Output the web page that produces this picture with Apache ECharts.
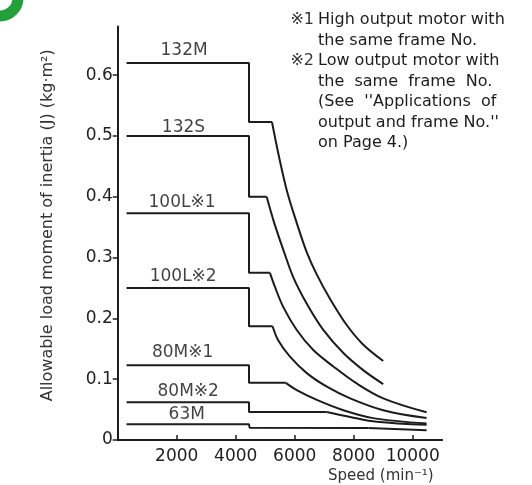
<!DOCTYPE html>
<html>
<head>
<meta charset="utf-8">
<script src="https://cdn.jsdelivr.net/npm/echarts@6/dist/echarts.min.js"></script>
<style>html,body{margin:0;padding:0;background:#fff;}#c{width:532px;height:485px;}</style>
</head>
<body>
<div id="c"></div>
<script>
// ---- data (speed in min^-1, J in kg·m²) ----
const s132M = [300, 4450, 4450, 5230, 5450, 5730, 6050, 6400, 6750, 7200, 7750, 8300, 9000];
const j132M = [0.62, 0.62, 0.523, 0.523, 0.47, 0.411, 0.36, 0.31, 0.272, 0.232, 0.19, 0.158, 0.13];
const s132S = [300, 4450, 4450, 5050, 5300, 5620, 5950, 6400, 6970, 7650, 8320, 9000];
const j132S = [0.5, 0.5, 0.4, 0.4, 0.358, 0.312, 0.268, 0.225, 0.181, 0.143, 0.115, 0.092];
const s100L1 = [300, 4450, 4450, 5160, 5330, 5610, 6070, 6630, 7310, 8100, 9000, 10470];
const j100L1 = [0.373, 0.373, 0.275, 0.275, 0.252, 0.219, 0.181, 0.148, 0.121, 0.093, 0.0685, 0.0455];
const s100L2 = [300, 4450, 4450, 5250, 5440, 5840, 6410, 7090, 7880, 9000, 10470];
const j100L2 = [0.25, 0.25, 0.187, 0.187, 0.164, 0.137, 0.11, 0.0877, 0.0685, 0.049, 0.036];
const s80M1 = [300, 4450, 4450, 5700, 6070, 6750, 7650, 8660, 10470];
const j80M1 = [0.123, 0.123, 0.094, 0.094, 0.082, 0.066, 0.049, 0.036, 0.027];
const s80M2 = [300, 4450, 4450, 7080, 7880, 8780, 10470];
const j80M2 = [0.062, 0.062, 0.0462, 0.0462, 0.038, 0.03, 0.025];
const s63M = [300, 4450, 4470, 8500, 10470];
const j63M = [0.026, 0.026, 0.0203, 0.0197, 0.016];

const labelNames = ['132M', '132S', '100L※1', '100L※2', '80M※1', '80M※2', '63M'];
const labelSpeeds = [2250, 2230, 2180, 2220, 2200, 2390, 2340];
const labelValues = [0.64, 0.514, 0.391, 0.269, 0.144, 0.0795, 0.041];

const xTicks = [2000, 4000, 6000, 8000, 10000];
const yTicks = [0, 0.1, 0.2, 0.3, 0.4, 0.5, 0.6];

const noteLines = [
  'High output motor with',
  'the same frame No.',
  'Low output motor with',
  'the  same  frame  No.',
  '(See  \'\'Applications  of',
  'output and frame No.\'\'',
  'on Page 4.)'
];
const noteMarks = ['※1', '', '※2', '', '', '', ''];

// ---- build ----
const FONT = '"DejaVu Sans", "Noto Sans CJK JP", sans-serif';
const INK = '#1c1c1c';
const pairs = (s, j) => s.map((v, i) => [v, j[i]]);
const curves = [
  pairs(s132M, j132M), pairs(s132S, j132S), pairs(s100L1, j100L1),
  pairs(s100L2, j100L2), pairs(s80M1, j80M1), pairs(s80M2, j80M2), pairs(s63M, j63M)
];

const series = [];
curves.forEach((d, i) => {
  // flat + step segment (straight)
  series.push({
    type: 'line', name: labelNames[i], data: d.slice(0, 4), showSymbol: false, smooth: false,
    lineStyle: { color: INK, width: 2 }, animation: false, silent: true
  });
  // falling curve segment (smoothed)
  series.push({
    type: 'line', name: labelNames[i] + ' curve', data: d.slice(3), showSymbol: false,
    smooth: 0.35,
    lineStyle: { color: INK, width: 2 }, animation: false, silent: true
  });
});
series.push({
  type: 'scatter', symbolSize: 0, silent: true, animation: false,
  data: labelNames.map((n, i) => ({ name: n, value: [labelSpeeds[i], labelValues[i]] })),
  label: { show: true, position: 'inside', formatter: p => p.name, color: '#111', fontSize: 17, fontFamily: FONT }
});

const graphics = [
  { type: 'circle', shape: { cx: 0, cy: -2, r: 18 }, style: { fill: 'none', stroke: '#23a03c', lineWidth: 11 }, silent: true }
];
noteLines.forEach((t, i) => {
  graphics.push({ type: 'text', left: 318, top: 12 + i * 20.5, style: { text: t, font: '16px ' + FONT, fill: INK } });
  if (noteMarks[i]) {
    graphics.push({ type: 'text', right: 532 - 314, top: 12 + i * 20.5, style: { text: noteMarks[i], font: '16px ' + FONT, fill: '#333' } });
  }
});
graphics.push({ type: 'text', left: 328, top: 469, style: { text: 'Speed (min⁻¹)', font: '15px ' + FONT, fill: '#333' } });

const chart = echarts.init(document.getElementById('c'), null, { renderer: 'canvas' });
chart.setOption({
  animation: false,
  backgroundColor: '#fff',
  grid: { left: 117.7, right: 89.8, top: 26.6, bottom: 45 },
  xAxis: {
    type: 'value', min: 0, max: 11000,
    axisLine: { show: true, lineStyle: { color: INK, width: 2 } },
    axisTick: { show: true, inside: true, length: 5, customValues: xTicks, lineStyle: { color: INK, width: 1.5 } },
    axisLabel: { customValues: xTicks, margin: 8, color: '#222', fontSize: 17, fontFamily: FONT,
      formatter: v => String(Math.round(v)) },
    splitLine: { show: false }
  },
  yAxis: {
    type: 'value', min: 0, max: 0.68,
    name: 'Allowable load moment of inertia (J) (kg·m²)',
    nameLocation: 'middle', nameGap: 62,
    nameTextStyle: { color: '#333', fontSize: 16, fontFamily: FONT, padding: [0, 0, 0, 16] },
    axisLine: { show: true, lineStyle: { color: INK, width: 2 } },
    axisTick: { show: true, inside: false, length: 5, customValues: yTicks, lineStyle: { color: INK, width: 1.5 } },
    axisLabel: { customValues: yTicks, margin: 5, color: '#222', fontSize: 17, fontFamily: FONT,
      formatter: v => (v === 0 ? '0' : v.toFixed(1)) },
    splitLine: { show: false }
  },
  graphic: graphics,
  series: series
});
</script>
</body>
</html>
